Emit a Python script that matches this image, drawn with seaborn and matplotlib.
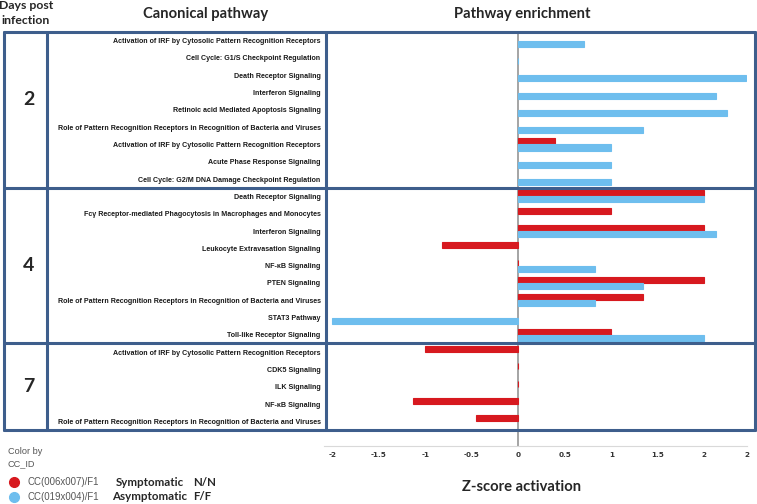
import matplotlib
matplotlib.use('Agg')
import matplotlib.pyplot as plt
import seaborn as sns
import pandas as pd
from matplotlib.lines import Line2D
from matplotlib.transforms import blended_transform_factory

# ---- data ----
days = ['2', '4', '7']
groups = ['CC(006x007)/F1', 'CC(019x004)/F1']

day2_pathways = [
    'Activation of IRF by Cytosolic Pattern Recognition Receptors',
    'Cell Cycle: G1/S Checkpoint Regulation',
    'Death Receptor Signaling',
    'Interferon Signaling',
    'Retinoic acid Mediated Apoptosis Signaling',
    'Role of Pattern Recognition Receptors in Recognition of Bacteria and Viruses',
    'Activation of IRF by Cytosolic Pattern Recognition Receptors',
    'Acute Phase Response Signaling',
    'Cell Cycle: G2/M DNA Damage Checkpoint Regulation',
]
day2_symptomatic = [None, None, None, None, None, None, 0.39, None, None]
day2_asymptomatic = [0.71, 0, 2.45, 2.13, 2.24, 1.34, 1.0, 1.0, 1.0]

day4_pathways = [
    'Death Receptor Signaling',
    'Fc\u03b3 Receptor-mediated Phagocytosis in Macrophages and Monocytes',
    'Interferon Signaling',
    'Leukocyte Extravasation Signaling',
    'NF-\u03baB Signaling',
    'PTEN Signaling',
    'Role of Pattern Recognition Receptors in Recognition of Bacteria and Viruses',
    'STAT3 Pathway',
    'Toll-like Receptor Signaling',
]
day4_symptomatic = [2.0, 1.0, 2.0, -0.82, 0, 2.0, 1.34, None, 1.0]
day4_asymptomatic = [2.0, None, 2.13, None, 0.82, 1.34, 0.82, -2.0, 2.0]

day7_pathways = [
    'Activation of IRF by Cytosolic Pattern Recognition Receptors',
    'CDK5 Signaling',
    'ILK Signaling',
    'NF-\u03baB Signaling',
    'Role of Pattern Recognition Receptors in Recognition of Bacteria and Viruses',
]
day7_symptomatic = [-1.0, 0, 0, -1.13, -0.45]
day7_asymptomatic = [None, None, None, None, None]

xticks = [-2, -1.5, -1, -0.5, 0, 0.5, 1, 1.5, 2, 2.46]
xtick_labels = ['-2', '-1.5', '-1', '-0.5', '0', '0.5', '1', '1.5', '2', '2']

RED = '#D7191F'
BLUE = '#6EBEEE'
BORDER = '#3E5E8C'

# ---- long table, one unique row id per pathway line ----
records = []
pathways = []
sections = [
    (day2_pathways, day2_symptomatic, day2_asymptomatic),
    (day4_pathways, day4_symptomatic, day4_asymptomatic),
    (day7_pathways, day7_symptomatic, day7_asymptomatic),
]
for names, symp, asymp in sections:
    for name, s, a in zip(names, symp, asymp):
        row = len(pathways)
        pathways.append(name)
        if s is not None:
            records.append({'row': row, 'group': groups[0], 'z': s})
        if a is not None:
            records.append({'row': row, 'group': groups[1], 'z': a})
df = pd.DataFrame(records)
n_rows = len(pathways)

sns.set_style('white')
plt.rcParams['font.family'] = ['DejaVu Sans']

W, H = 757, 504
fig = plt.figure(figsize=(W / 100, H / 100), dpi=100)


def fx(x):
    return x / W


def fy(y):
    return 1 - y / H


ax_left, ax_right, ax_top, ax_bottom = 324, 747, 32, 446
ax = fig.add_axes([fx(ax_left), fy(ax_bottom), fx(ax_right - ax_left), (ax_bottom - ax_top) / H])

sns.barplot(data=df, x='z', y='row', hue='group', hue_order=groups, order=list(range(n_rows)),
            orient='h', palette=[RED, BLUE], saturation=1, width=0.7, dodge=True,
            errorbar=None, linewidth=0.8, legend=False, ax=ax)
for patch in ax.patches:
    patch.set_edgecolor(patch.get_facecolor())

extra = (ax_bottom - 430) / ((430 - ax_top) / n_rows)
ax.set_ylim(n_rows - 0.5 + extra, -0.5)
ax.set_xlim(-2.09, 2.46)
ax.axvline(0, color='#8C8C8C', lw=1.1, zorder=0)

ax.set_yticks(range(n_rows))
ax.set_yticklabels(pathways, fontsize=5.1, fontweight='bold',
                   family=['Liberation Sans Narrow', 'Liberation Sans'], color='#1A1A1A')
ax.set_xticks(xticks)
ax.set_xticklabels(xtick_labels, fontsize=5.2, fontweight='bold', color='#333333')
ax.tick_params(axis='y', length=0, pad=2.5)
ax.tick_params(axis='x', length=2, color='#D0D0D0', pad=2)
ax.set_xlabel('')
ax.set_ylabel('')
for side in ['left', 'right', 'top']:
    ax.spines[side].set_visible(False)
ax.spines['bottom'].set_color('#D9D9D9')

# ---- table borders (x in figure px, y in data rows) ----
trans = blended_transform_factory(fig.transFigure, ax.transData)
bounds = [-0.5, len(day2_pathways) - 0.5, len(day2_pathways) + len(day4_pathways) - 0.5, n_rows - 0.5]
x_l, x_r = fx(4), fx(755)
for b in bounds:
    ax.add_line(Line2D([x_l, x_r], [b, b], transform=trans, color=BORDER, lw=2.2, clip_on=False))
for xv in [4, 47, 326, 755]:
    ax.add_line(Line2D([fx(xv), fx(xv)], [bounds[0], bounds[-1]], transform=trans,
                       color=BORDER, lw=2.2, clip_on=False))

day_centers = [3.4, (bounds[1] + bounds[2]) / 2, (bounds[2] + bounds[3]) / 2]
for d, c in zip(days, day_centers):
    ax.text(fx(29), c, d, transform=trans, ha='center', va='center', fontsize=14,
            fontweight='bold', family='Lato')

# ---- headers ----
fig.text(fx(26), fy(5.5), 'Days post', ha='center', va='center', fontsize=8.8,
         fontweight='bold', family='Lato')
fig.text(fx(26), fy(20), 'infection', ha='center', va='center', fontsize=8.8,
         fontweight='bold', family='Lato')
fig.text(fx(206), fy(14), 'Canonical pathway', ha='center', va='center', fontsize=10.6,
         fontweight='bold', family='Lato')
fig.text(fx(522), fy(14), 'Pathway enrichment', ha='center', va='center', fontsize=10.6,
         fontweight='bold', family='Lato')
fig.text(fx(522), fy(487), 'Z-score activation', ha='center', va='center', fontsize=10.6,
         fontweight='bold', family='Lato')

# ---- legend ----
fig.text(fx(8), fy(452), 'Color by', ha='left', va='center', fontsize=6.6, color='#555555',
         family='Liberation Sans')
fig.text(fx(8), fy(464), 'CC_ID', ha='left', va='center', fontsize=6.6, color='#555555',
         family='Liberation Sans')
for yy, col, lab, state, geno in [(482, RED, groups[0], 'Symptomatic', 'N/N'),
                                  (497, BLUE, groups[1], 'Asymptomatic', 'F/F')]:
    fig.add_artist(Line2D([fx(14)], [fy(yy)], marker='o', markersize=7, color=col,
                          transform=fig.transFigure))
    fig.text(fx(27), fy(yy), lab, ha='left', va='center', fontsize=6.9, color='#555555',
             family='Liberation Sans')
    fig.text(fx(150), fy(yy), state, ha='center', va='center', fontsize=8.3,
             fontweight='bold', family='Lato')
    fig.text(fx(193), fy(yy), geno, ha='left', va='center', fontsize=8.3,
             fontweight='bold', family='Lato')

fig.savefig('out.png', dpi=100)
